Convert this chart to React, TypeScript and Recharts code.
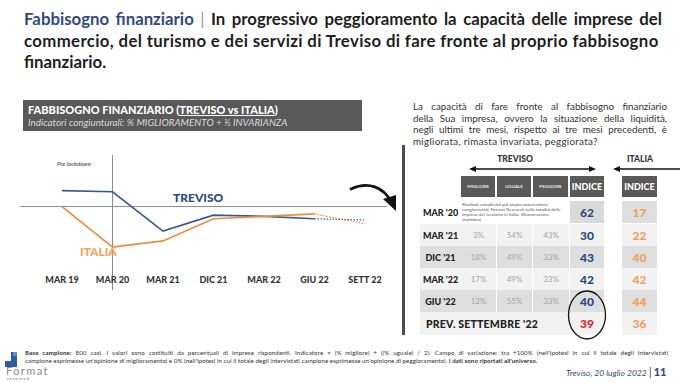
import React from "react";
import { LineChart, Line, XAxis, YAxis, ReferenceLine } from "recharts";

// left chart: indicator (% miglioramento + 1/2 invarianza)
const periods = ["MAR 19", "MAR 20", "MAR 21", "DIC 21", "MAR 22", "GIU 22", "SETT 22"];
const trevisoIndex = [63, 62, 30, 43, 42, 40, 39];
const italiaIndex = [50, 17, 22, 40, 42, 44, 36];

// right table
const tableRows = ["MAR '20", "MAR '21", "DIC '21", "MAR '22", "GIU '22"];
const migliore = ["", "3%", "18%", "17%", "12%"];
const uguale = ["", "54%", "49%", "49%", "55%"];
const peggiore = ["", "43%", "33%", "33%", "33%"];

const NAVY = "#2f4b7c";
const ORANGE = "#ef8a3d";
const DARK = "#595959";
const FONT = "'Lato', 'Open Sans', sans-serif";

const chartData = periods.map((p, i) => ({
  period: p,
  treviso: i < 6 ? trevisoIndex[i] : null,
  trevisoPrev: i >= 5 ? trevisoIndex[i] : null,
  italia: i < 6 ? italiaIndex[i] : null,
  italiaPrev: i >= 5 ? italiaIndex[i] : null,
}));

const PeriodTick = (props: any) => {
  const { x, y, payload } = props;
  return (
    <text x={x} y={y - 19} textAnchor="middle" dominantBaseline="central"
      fontFamily={FONT} fontWeight={900} fontSize={9} fill="#333">
      {payload.value}
    </text>
  );
};

function TrendChart() {
  return (
    <LineChart width={367} height={165} data={chartData}
      margin={{ top: 0, right: 0, bottom: 0, left: 0 }}>
      <XAxis dataKey="period" height={30} axisLine={false} tickLine={false}
        padding={{ left: 42, right: 22 }} tick={<PeriodTick />} interval={0} />
      <YAxis hide domain={[-18, 92]} />
      <ReferenceLine y={50} stroke="#8c8c8c" strokeWidth={1} />
      <ReferenceLine x="MAR 20" stroke="#8c8c8c" strokeWidth={1} />
      <Line dataKey="treviso" stroke="#3a5a8e" strokeWidth={1.6} dot={false} isAnimationActive={false} />
      <Line dataKey="italia" stroke={ORANGE} strokeWidth={1.6} dot={false} isAnimationActive={false} />
      <Line dataKey="trevisoPrev" stroke="#3a5a8e" strokeWidth={1.2} strokeDasharray="1.5 1.5" dot={false} isAnimationActive={false} />
      <Line dataKey="italiaPrev" stroke={ORANGE} strokeWidth={1.2} strokeDasharray="1.5 1.5" dot={false} isAnimationActive={false} />
    </LineChart>
  );
}

const abs = (left: number, top: number, extra: React.CSSProperties = {}): React.CSSProperties => ({
  position: "absolute", left, top, ...extra,
});

const justLine: React.CSSProperties = { textAlign: "justify", textAlignLast: "justify", whiteSpace: "nowrap" };

function IndexTable() {
  const cols = [461, 497, 533, 570];
  const widths = [35, 35, 36, 34];
  const rowTop = [201, 224, 246, 268, 290, 312];
  const rowH = [22, 22, 22, 22, 22, 23];
  const rowBg = (i: number) => (i % 2 === 0 ? "#dedede" : "#f2f2f2");
  const cell = (l: number, t: number, w: number, h: number, bg: string, content: React.ReactNode, style: React.CSSProperties = {}) => (
    <div style={abs(l, t, { width: w, height: h, background: bg, display: "flex", alignItems: "center", justifyContent: "center", ...style })}>
      {content}
    </div>
  );
  const headers = ["MIGLIORE", "UGUALE", "PEGGIORE"];
  return (
    <>
      <div style={abs(490, 154, { width: 50, textAlign: "center", fontWeight: 900, fontSize: 8.5, color: "#333" })}>TREVISO</div>
      <div style={abs(618, 154, { width: 44, textAlign: "center", fontWeight: 900, fontSize: 8.5, color: "#333" })}>ITALIA</div>
      <svg style={abs(466, 164)} width={214} height={10}>
        <line x1={8} y1={5} x2={125} y2={5} stroke="#111" strokeWidth={1.6} />
        <polygon points="3,5 10,2 10,8" fill="#111" />
        <polygon points="130,5 123,2 123,8" fill="#111" />
        <line x1={152} y1={5} x2={214} y2={5} stroke="#111" strokeWidth={1.6} />
        <polygon points="147,5 154,2 154,8" fill="#111" />
      </svg>
      {headers.map((h, j) => cell(cols[j], 176, widths[j] - 1, 21, DARK,
        <span style={{ fontSize: 4.5, fontWeight: 700, color: "#e8e8e8" }}>{h}</span>))}
      {cell(cols[3], 176, widths[3], 21, DARK, <span style={{ fontSize: 9, fontWeight: 900, color: "#fff" }}>INDICE</span>)}
      {cell(622, 176, 35, 21, DARK, <span style={{ fontSize: 9, fontWeight: 900, color: "#fff" }}>INDICE</span>)}
      {tableRows.map((r, i) => {
        const t = rowTop[i];
        const h = rowH[i];
        const bg = i === 0 ? "#ffffff" : rowBg(i);
        return (
          <React.Fragment key={r}>
            {cell(420, t, 41, h, bg, <span style={{ fontSize: 9, fontWeight: 900, color: "#222" }}>{r}</span>)}
            {i === 0 ? (
              <div style={abs(462, t + 1, { width: 106, fontSize: 4.6, lineHeight: "5px", color: "#555" })}>
                Risultati estratti dal più ampio osservatorio congiunturale Format Research sulla totalità delle imprese del terziario in Italia. (Ricostruzione statistica)
              </div>
            ) : (
              [migliore[i], uguale[i], peggiore[i]].map((v, j) =>
                cell(cols[j], t, widths[j], h, bg, <span style={{ fontSize: 8, color: "#a6a6a6" }}>{v}</span>))
            )}
            {cell(cols[3], t, widths[3], h, i === 0 ? "#d9d9d9" : bg,
              <span style={{ fontSize: 12, fontWeight: 900, color: NAVY }}>{trevisoIndex[i + 1]}</span>)}
            {cell(622, t, 35, h, i % 2 === 0 ? "#dedede" : "#f2f2f2",
              <span style={{ fontSize: 12, fontWeight: 900, color: "#f0a060" }}>{italiaIndex[i + 1]}</span>)}
          </React.Fragment>
        );
      })}
      {cell(420, 312, 150, 23, "#f2f2f2",
        <span style={{ fontSize: 10.5, fontWeight: 900, color: "#222", letterSpacing: 0.2 }}>PREV. SETTEMBRE '22</span>,
        { justifyContent: "flex-start", paddingLeft: 6, boxSizing: "border-box" })}
      {cell(570, 312, 34, 23, "#f2f2f2", <span style={{ fontSize: 12, fontWeight: 900, color: "#e3202b" }}>{trevisoIndex[6]}</span>)}
      {cell(622, 312, 35, 23, "#f2f2f2", <span style={{ fontSize: 12, fontWeight: 900, color: "#f0a060" }}>{italiaIndex[6]}</span>)}
      <svg style={abs(566, 289)} width={42} height={52}>
        <ellipse cx={21} cy={26} rx={18.5} ry={24} fill="none" stroke="#111" strokeWidth={1.3} />
      </svg>
    </>
  );
}

export default function App() {
  return (
    <div style={{ position: "absolute", left: 0, top: 0, width: 680, height: 383, background: "#fff", fontFamily: FONT, overflow: "hidden" }}>
      {/* title */}
      <div style={abs(24, 8, { width: 638, fontSize: 16.8, lineHeight: "21.5px", fontWeight: 700, color: "#1e1e1e", whiteSpace: "nowrap" })}>
        <div style={justLine}>
          <span style={{ color: NAVY }}>Fabbisogno finanziario</span> <span style={{ color: "#999", fontWeight: 400 }}>|</span> In progressivo peggioramento la capacità delle imprese del
        </div>
        <div style={{ letterSpacing: 0.35 }}>commercio, del turismo e dei servizi di Treviso di fare fronte al proprio fabbisogno</div>
        <div>finanziario.</div>
      </div>

      {/* left header box */}
      <div style={abs(23, 100, { width: 339, height: 31, background: DARK, boxSizing: "border-box", padding: "4px 0 0 5px" })}>
        <div style={{ fontSize: 11, fontWeight: 900, color: "#fff", lineHeight: "12px", whiteSpace: "nowrap" }}>
          FABBISOGNO FINANZIARIO (<span style={{ textDecoration: "underline" }}>TREVISO vs ITALIA</span>)
        </div>
        <div style={{ fontSize: 9.8, fontStyle: "italic", color: "#d9d9d9", lineHeight: "12px", whiteSpace: "nowrap" }}>
          Indicatori congiunturali: % MIGLIORAMENTO + ½ INVARIANZA
        </div>
      </div>

      {/* chart */}
      <div style={abs(20, 155)}>
        <TrendChart />
      </div>
      <div style={abs(57, 160, { fontSize: 6, fontStyle: "italic", fontWeight: 700, color: "#666" })}>Pre lockdown</div>
      <div style={abs(173, 190, { fontSize: 12, fontWeight: 900, color: NAVY })}>TREVISO</div>
      <div style={abs(80, 244, { fontSize: 12, fontWeight: 900, color: "#f5a25e" })}>ITALIA</div>
      <svg style={abs(348, 182)} width={52} height={32}>
        <path d="M3,7 C20,-1 36,5 43,20" fill="none" stroke="#111" strokeWidth={2.8} strokeLinecap="round" />
        <polygon points="35,17 48,29 48,13" fill="#111" />
      </svg>

      {/* right side */}
      <div style={abs(413, 101, { width: 254, fontSize: 9.8, lineHeight: "11.7px", color: "#333" })}>
        <div style={justLine}>La capacità di fare fronte al fabbisogno finanziario</div>
        <div style={justLine}>della Sua impresa, ovvero la situazione della liquidità,</div>
        <div style={justLine}>negli ultimi tre mesi, rispetto ai tre mesi precedenti, è</div>
        <div style={{ letterSpacing: 0.3 }}>migliorata, rimasta invariata, peggiorata?</div>
      </div>
      <div style={abs(402, 145, { width: 2.5, height: 190, background: "#4d4d4d" })} />
      <IndexTable />

      {/* footer */}
      <svg style={abs(5, 352)} width={13} height={15}>
        <rect x={0} y={9} width={12} height={6} fill="#2a5fa8" />
        <rect x={6} y={0} width={6} height={9} fill="#2a5fa8" />
        <rect x={8} y={0} width={4} height={4} fill="#5b8fd1" />
      </svg>
      <div style={abs(25, 349, { width: 643, fontSize: 6.2, lineHeight: "8px", color: "#333" })}>
        <div style={{ ...justLine, letterSpacing: 0.1 }}>
          <b>Base campione:</b> 800 casi. I valori sono costituiti da percentuali di imprese rispondenti. Indicatore = (% migliore) + ((% uguale) / 2). Campo di variazione: tra +100% (nell'ipotesi in cui il totale degli intervistati
        </div>
        <div style={{ whiteSpace: "nowrap", letterSpacing: 0.05 }}>
          campione esprimesse un'opinione di miglioramento) e 0% (nell'ipotesi in cui il totale degli intervistati campione esprimesse un'opinione di peggioramento). <b>I dati sono riportati all'universo.</b>
        </div>
      </div>
      <div style={abs(6, 365, { fontSize: 11, color: "#8a8a8a", letterSpacing: 1.4, lineHeight: "11px" })}>Format</div>
      <div style={abs(7, 376, { fontSize: 4, color: "#8a8a8a", letterSpacing: 1, fontWeight: 700, lineHeight: "5px" })}>research</div>
      <div style={abs(566, 364, { fontSize: 8.5, color: NAVY, fontStyle: "italic", whiteSpace: "nowrap" })}>
        Treviso, 20 luglio 2022 <span style={{ fontSize: 12, fontStyle: "normal", color: "#555" }}>|</span> <span style={{ fontSize: 11, fontWeight: 900, fontStyle: "normal", color: NAVY }}>11</span>
      </div>
    </div>
  );
}
